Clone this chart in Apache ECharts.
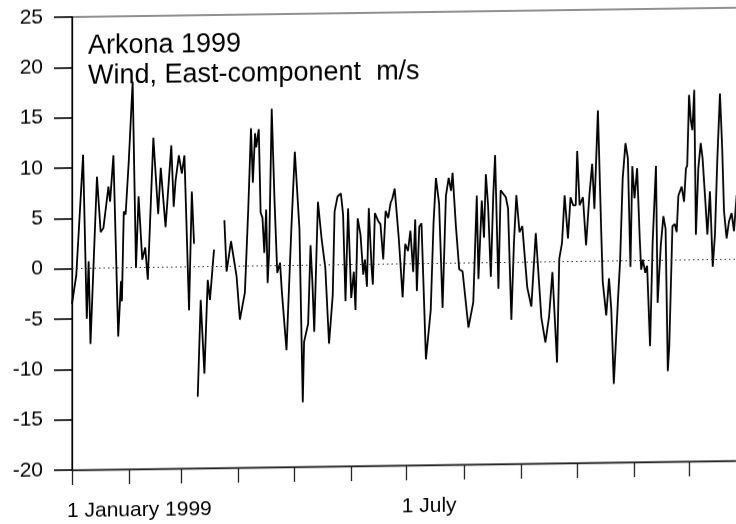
<!DOCTYPE html>
<html>
<head>
<meta charset="utf-8">
<script src="https://cdn.jsdelivr.net/npm/echarts@6/dist/echarts.min.js"></script>
<style>
  html, body { margin: 0; padding: 0; background: #fff; }
  /* the scanned original is slightly skewed: horizontals rise to the right */
  #chart { width: 736px; height: 524px; transform: skewY(-0.8deg); transform-origin: 72px 270px; }
</style>
</head>
<body>
<div id="chart"></div>
<script>
// day of year (0 = 1 January 1999), east component of wind in m/s; null = missing data
const windEast = [
  [0, -3.5], [2.3, -0.7], [6, 11.3], [8, -5], [9, 0.7], [10, -7.5], [13.5, 9.1], [15.5, 3.6],
  [17, 4], [19.7, 8.1], [20.6, 6.6], [22.4, 11.2], [25, -6.8], [26.5, -1.3], [27, -3.3], [28, 5.6],
  [29, 5.3], [30.7, 10.6], [32.8, 18.5], [34.6, 0], [36, 7.1], [38, 0.8], [39.6, 2], [41, -1.2],
  [44, 12.9], [46.6, 5.3], [48, 9.9], [50.6, 4], [53.7, 12.1], [55, 6], [56, 8.6], [57.8, 11.1],
  [59.4, 9.3], [60.8, 11.1], [63.3, -4.3], [64.8, 7.5], [66, 2.3],
  [67, null],
  [68, -12.9], [69.6, -3.3], [71.6, -10.6], [73.4, -1.3], [74.6, -3.3], [76.8, 1.7],
  [79, null],
  [82.4, 4.6], [83.6, -0.5], [86, 2.5], [89, -1], [90.8, -5.3], [93.5, -2.6], [95.3, 5.6],
  [96.8, 13.7], [97.8, 8.3], [99, 13.2], [99.6, 11.8], [101, 13.6], [102, 5.3], [103, 4.8],
  [104, 1.3], [105, 5.6], [105.8, -1.7], [106.6, 1.3], [108, 15.6], [109.5, 6.6], [111, -0.7],
  [112.5, 0.3], [113.5, -2.6], [116, -8.4], [118.7, 4], [120.5, 11.3], [123, 3.6], [124.8, -13.6],
  [125.5, -7.6], [127.7, -5.8], [129, 2], [130, -1.7], [131, -6.6], [133, 6.3], [135, 2.6],
  [137, -0.3], [139, -7.8], [141, -3], [142, 5.3], [143.6, 6.8], [145.4, 7.1], [146.6, 5],
  [147.9, -3.6], [149.3, 5.6], [151, -3.3], [152.4, -0.7], [153.3, -4.5], [154.5, 4.6], [156, 3],
  [157.5, -1], [158.4, 0.5], [159.5, -2.2], [160.5, 5.6], [162, -0.3], [162.7, -2], [163.8, 5.1],
  [165.6, 4.3], [166.8, 4], [168.3, 0.5], [169.6, 5.3], [171, 4.6], [172.3, 6.1], [173.2, 6.5],
  [174.5, 7.5], [176.7, 2.6], [178.8, -3.3], [180.2, 2], [181.7, 1.3], [183, 3.3], [184.5, -0.8],
  [185.6, 4.4], [186.5, -2.7], [187.8, 3.7], [189, 4], [191.4, -9.5], [194, -4.6], [195.5, 4],
  [196.8, 8.5], [198.5, 6], [200.4, -4.4], [202.2, 6.7], [203.7, 8.5], [205, 7.2], [205.8, 9],
  [207.6, 3.7], [209.4, -0.6], [211.2, -0.8], [214.4, -6.4], [217, -3.9], [218.9, 6.7], [219.8, -1.6],
  [221.6, 6.2], [222.8, 2.5], [223.8, 8.8], [225, 5.7], [226.5, -1.4], [227.8, 6.7], [228.8, 10.7],
  [230.6, -2.6], [231.8, 7.2], [234.6, 6.5], [235.8, 5.4], [237.6, -5.7], [239, 2], [240.3, 6.7],
  [242, 3], [243.5, 3.6], [246.2, -2.5], [248.4, -4.4], [250.8, 2.9], [253.8, -5.5], [256, -8],
  [258, -5.4], [259.8, -1], [262.3, -10], [263.5, 0.3], [265, 1.9], [266.4, 6.6], [268.2, 2.3],
  [269.6, 6.4], [271, 5.6], [272.4, 5.6], [273.2, 11], [274.5, 5.6], [276.3, 6.4], [278, 1.6],
  [279.8, 6.6], [281.3, 9.7], [282.5, 5.2], [284.4, 15], [286.2, 2.9], [287, -2], [288.9, -5.4],
  [290.4, -1.7], [291.6, -4.7], [293, -12.2], [295.2, -4], [296.4, 0], [297.8, 8.2], [299.3, 11.7],
  [300.6, 10.2], [302, -0.6], [303, 9.4], [304.2, 6.2], [305.6, 9.2], [307, 2.3], [307.8, -0.9],
  [308.7, 0.1], [310, -1.2], [311, -0.5], [312.6, -8.5], [314, 1.8], [315.8, 9.4], [316.7, -4.2],
  [318.4, 1.5], [319.8, 4.4], [321, 3.1], [322.2, -11], [323, -8.5], [324.7, 3.4], [326, 3.6],
  [327, 2.8], [327.9, 6.4], [329.7, 7.3], [331, 5.8], [332, 9.1], [332.7, 9.4], [333.7, 16.4],
  [334.6, 13.9], [335.5, 12.9], [336.5, 16.9], [337.4, 2.5], [338.7, 9.1], [340, 11.6], [341, 10.1],
  [342.4, 6.1], [343.6, 2.5], [345, 6.8], [346.5, -0.7], [347.7, 2.5], [349, 10.1], [350.4, 16.5],
  [351.6, 11.1], [352.6, 4.8], [354, 2.1], [355.3, 3.8], [356.7, 4.6], [358, 2.8], [359.4, 6.4],
  [361, 3.5], [362.5, 7]
]

// first day of each month, for the x ticks
const monthStarts = [0, 31, 59, 90, 120, 151, 181, 212, 243, 273, 304, 334]
const xLabelDays = [0, 181]
const xLabelText = ['1 January 1999', '1 July']

const titleLines = ['Arkona 1999', 'Wind, East-component  m/s']

const FONT = '"Liberation Sans", Arial, sans-serif'

const chart = echarts.init(document.getElementById('chart'))

chart.setOption({
  animation: false,
  backgroundColor: '#fff',
  textStyle: { fontFamily: FONT },
  title: {
    text: titleLines.join('\n'),
    left: 88,
    top: 32,
    padding: 0,
    textStyle: {
      fontFamily: FONT,
      fontSize: 27,
      fontWeight: 'normal',
      lineHeight: 30,
      color: '#000'
    }
  },
  grid: {
    left: 72,
    top: 17,
    width: 675,
    bottom: 54,
    show: true,
    borderColor: '#222',
    borderWidth: 1.2,
    outerBoundsMode: 'none'
  },
  xAxis: {
    type: 'value',
    min: 0,
    max: 365,
    splitLine: { show: false },
    axisLine: { onZero: false, lineStyle: { color: '#222', width: 1.3 } },
    axisTick: {
      show: true,
      customValues: monthStarts,
      length: 15,
      lineStyle: { color: '#222', width: 1.3 }
    },
    axisLabel: {
      customValues: xLabelDays,
      formatter: v => xLabelText[xLabelDays.indexOf(v)] || '',
      align: 'left',
      margin: 31,
      padding: [0, 0, 0, -5],
      fontSize: 21,
      color: '#000',
      fontFamily: FONT
    }
  },
  yAxis: {
    type: 'value',
    min: -20,
    max: 25,
    interval: 5,
    splitLine: { show: false },
    axisLine: { show: true, onZero: false, lineStyle: { color: '#000', width: 1.3 } },
    axisTick: { show: true, inside: false, length: 18, lineStyle: { color: '#000', width: 1.6 } },
    axisLabel: {
      margin: 29,
      fontSize: 21,
      color: '#000',
      fontFamily: FONT
    }
  },
  series: [{
    type: 'line',
    data: windEast,
    showSymbol: false,
    connectNulls: false,
    lineStyle: { color: '#000', width: 1.8 },
    markLine: {
      silent: true,
      symbol: 'none',
      label: { show: false },
      lineStyle: { color: '#333', width: 1, type: [1.5, 3] },
      data: [{ yAxis: 0 }]
    }
  }]
})
</script>
</body>
</html>
